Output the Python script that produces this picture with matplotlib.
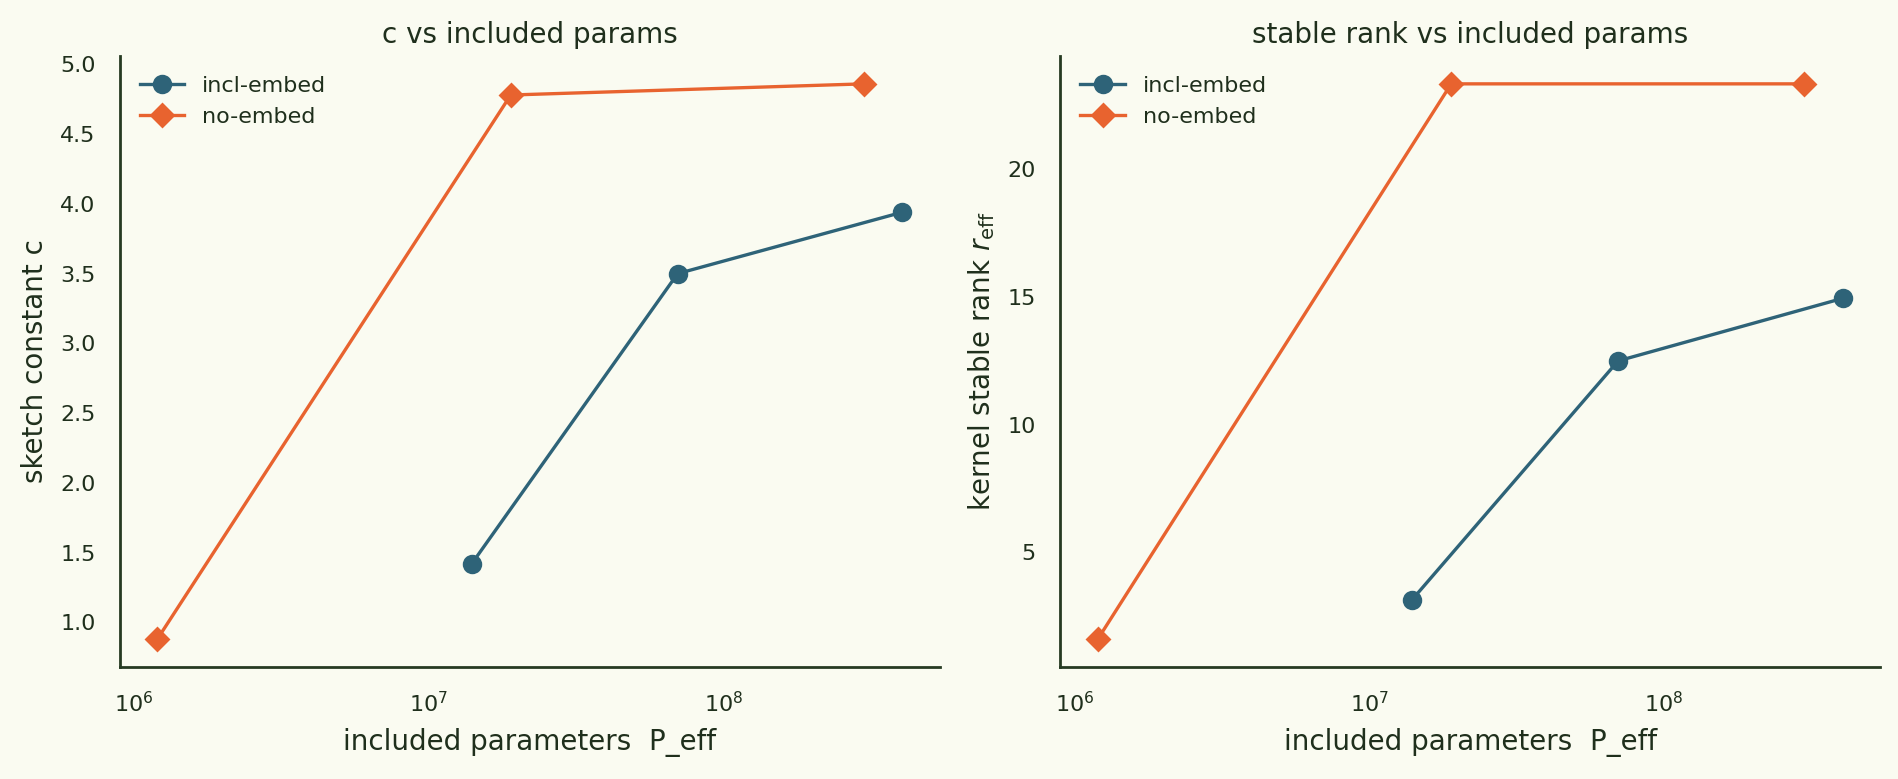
import matplotlib
matplotlib.use("Agg")
import matplotlib.pyplot as plt

BG = '#FAFBF1'
INK = '#1F2F1C'
SPINE = '#263A22'
BLUE = '#2E6378'
ORANGE = '#E8632F'

# included parameters (P_eff) per setting
p_incl = [1.4e7, 7.0e7, 4.05e8]
p_noemb = [1.2e6, 1.9e7, 3.0e8]

# sketch constant c
c_incl = [1.42, 3.50, 3.94]
c_noemb = [0.88, 4.78, 4.86]

# kernel stable rank r_eff
r_incl = [3.15, 12.5, 14.95]
r_noemb = [1.6, 23.35, 23.35]

plt.rcParams['font.family'] = 'DejaVu Sans'
plt.rcParams['text.color'] = INK
plt.rcParams['axes.labelcolor'] = INK
plt.rcParams['xtick.color'] = INK
plt.rcParams['ytick.color'] = INK

fig, axes = plt.subplots(1, 2, figsize=(9.495, 3.895), dpi=200)
fig.patch.set_facecolor(BG)
fig.subplots_adjust(left=0.0632, right=0.990, bottom=0.1438, top=0.928, wspace=0.1476)

panels = [
    (axes[0], c_incl, c_noemb, 'sketch constant c', 'c vs included params'),
    (axes[1], r_incl, r_noemb, r'kernel stable rank $r_{\mathrm{eff}}$', 'stable rank vs included params'),
]

for ax, y_incl, y_noemb, ylabel, title in panels:
    ax.set_facecolor(BG)
    ax.plot(p_incl, y_incl, color=BLUE, marker='o', markersize=6, linewidth=1.2, label='incl-embed')
    ax.plot(p_noemb, y_noemb, color=ORANGE, marker='D', markersize=5.6, linewidth=1.2, label='no-embed')
    ax.set_xscale('log')
    ax.minorticks_off()
    for side in ['top', 'right']:
        ax.spines[side].set_visible(False)
    for side in ['left', 'bottom']:
        ax.spines[side].set_color(SPINE)
        ax.spines[side].set_linewidth(1.0)
    ax.tick_params(length=0, pad=8.8, labelsize=8)
    ax.set_xlabel('included parameters  P_eff', fontsize=10)
    ax.set_ylabel(ylabel, fontsize=10)
    ax.set_title(title, fontsize=10, pad=4.8)
    ax.legend(loc='upper left', frameon=False, fontsize=8)

axes[0].set_yticks([1.0, 1.5, 2.0, 2.5, 3.0, 3.5, 4.0, 4.5, 5.0])
axes[1].set_yticks([5, 10, 15, 20])

plt.savefig('out.png', dpi=200, facecolor=BG)
